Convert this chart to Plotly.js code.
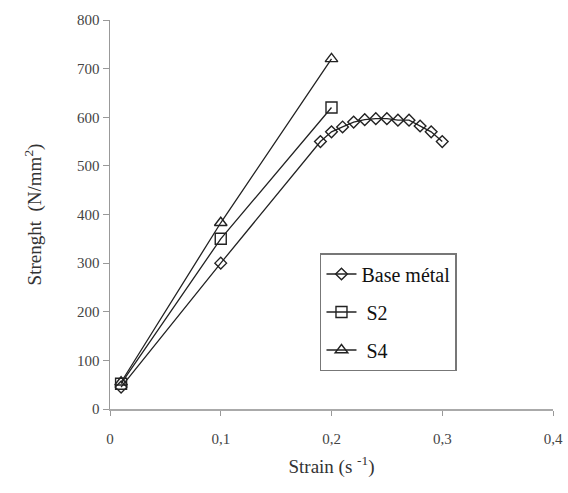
<!DOCTYPE html>
<html>
<head>
<meta charset="utf-8">
<script src="https://cdn.plot.ly/plotly-3.0.1.min.js"></script>
<style>body{margin:0;background:#fff}#chart{width:568px;height:493px}</style>
</head>
<body>
<div id="chart"></div>
<script>
const baseX = [0.01, 0.1, 0.19, 0.2, 0.21, 0.22, 0.23, 0.24, 0.25, 0.26, 0.27, 0.28, 0.29, 0.3];
const baseY = [45, 300, 550, 570, 580, 590, 595, 597, 597, 594, 594, 582, 570, 550];
const s2X = [0.01, 0.1, 0.2];
const s2Y = [52, 350, 620];
const s4X = [0.01, 0.1, 0.2];
const s4Y = [55, 383, 720];
const names = ['Base métal', ' S2', ' S4'];

const lineStyle = {color: '#222', width: 1.3};
const traces = [
  {x: baseX, y: baseY, name: names[0], legendgroup: 'a', mode: 'lines+markers', line: lineStyle,
   marker: {symbol: 'diamond-open', size: 9, color: '#222', line: {width: 1.4}}},
  {x: s2X, y: s2Y, name: names[1], legendgroup: 'b', mode: 'lines+markers', line: lineStyle,
   marker: {symbol: 'square-open', size: 11, color: '#222', line: {width: 1.4}}},
  {x: s4X, y: s4Y, name: names[2], legendgroup: 'c', mode: 'lines+markers', line: lineStyle,
   marker: {symbol: 'triangle-up-open', size: 11, color: '#222', line: {width: 1.4}}}
];

const font = {family: '"Liberation Serif", "DejaVu Serif", serif', color: '#222'};
const layout = {
  width: 568, height: 493,
  margin: {l: 110, r: 15, t: 20, b: 84},
  paper_bgcolor: '#fff', plot_bgcolor: '#fff',
  separators: ', ',
  font: font,
  showlegend: true,
  legend: {
    x: 0.474, y: 0.401, xanchor: 'left', yanchor: 'top',
    bordercolor: '#777', borderwidth: 1.5, bgcolor: '#fff',
    font: {family: font.family, size: 20, color: '#111'},
    tracegroupgap: 9
  },
  xaxis: {
    range: [0, 0.4], dtick: 0.1, tick0: 0,
    showgrid: false, zeroline: false,
    showline: true, linecolor: '#aaa', linewidth: 2,
    ticks: 'outside', ticklen: 5, tickcolor: '#999', tickwidth: 1,
    ticklabelstandoff: 10,
    tickfont: {family: font.family, size: 15, color: '#444'},
    title: {text: 'Strain (s <sup>-1</sup>)', font: {family: font.family, size: 19, color: '#333'}, standoff: 14}
  },
  yaxis: {
    range: [0, 800], dtick: 100, tick0: 0,
    showgrid: false, zeroline: false,
    showline: true, linecolor: '#999', linewidth: 1.5,
    ticks: 'outside', ticklen: 6, tickcolor: '#999', tickwidth: 1,
    tickfont: {family: font.family, size: 15, color: '#444'},
    title: {text: 'Strenght  (N/mm<sup>2</sup>)', font: {family: font.family, size: 19, color: '#333'}, standoff: 30}
  }
};

Plotly.newPlot('chart', traces, layout, {displayModeBar: false, staticPlot: true});
</script>
</body>
</html>
